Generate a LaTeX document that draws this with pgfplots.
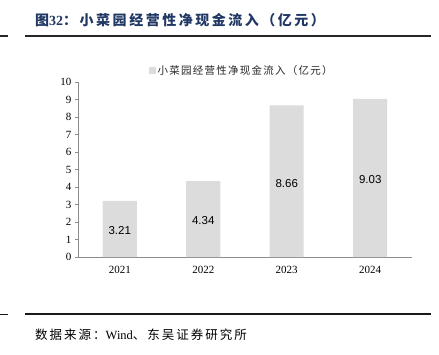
\documentclass[border=0pt]{standalone}
\usepackage{fontspec}
\setmainfont{Liberation Serif}
\newfontfamily\cjk{Noto Sans CJK SC}
\newfontfamily\cjkls[LetterSpace=18]{Noto Sans CJK SC}
\newfontfamily\cjklegend[LetterSpace=12]{Noto Sans CJK SC}
\newfontfamily\cjksrc[LetterSpace=16]{Noto Sans CJK SC}
\newfontfamily\arial{Liberation Sans}
\usepackage{pgfplots}
\pgfplotsset{compat=1.18}
\definecolor{titleblue}{RGB}{33,56,100}
\definecolor{bargray}{RGB}{220,220,220}
\definecolor{axisgray}{RGB}{140,140,140}
\begin{document}
\begin{tikzpicture}
\path[use as bounding box] (0,0) rectangle (439bp,-355bp);
% title
\node[anchor=west, text=titleblue, font=\fontsize{14bp}{15bp}\selectfont, inner sep=0pt] at (35bp,-20bp) {\cjkls\bfseries 图{\fontspec{Liberation Serif}\bfseries 32}：小菜园经营性净现金流入（亿元）};
\draw[line width=1.6bp, black!85] (25bp,-36bp) -- (431bp,-36bp);
\draw[line width=1.2bp, black!85] (0bp,-36bp) -- (8bp,-36bp);
\draw[line width=1.3bp, black!90] (25bp,-314bp) -- (431bp,-314bp);
\draw[line width=1.0bp, black!90] (0bp,-314bp) -- (8bp,-314bp);
\node[anchor=west, font=\fontsize{12.5bp}{13bp}\selectfont, inner sep=0pt] at (35bp,-335bp) {\cjksrc 数据来源：{\fontspec{Liberation Serif}Wind}、东吴证券研究所};
\begin{axis}[
  at={(78bp,-257bp)}, anchor=south west,
  scale only axis, width=334bp, height=175bp,
  xmin=-0.5, xmax=3.5, ymin=0, ymax=10,
  axis lines*=left,
  axis line style={axisgray, line width=0.6bp},
  xtick={0,1,2,3}, xticklabels={2021,2022,2023,2024},
  x tick style={draw=none},
  extra x ticks={0.5,1.5,2.5,3.5}, extra x tick labels={},
  extra x tick style={tick style={draw=axisgray, line width=0.5bp}, major tick length=3bp, tick align=inside},
  ytick={0,1,...,10},
  y tick style={axisgray, line width=0.5bp},
  major tick length=3bp, tick align=outside,
  tick label style={font=\fontsize{11bp}{12bp}\selectfont},
  /pgf/number format/assume math mode=true,
  xticklabel style={yshift=-3bp},
  ybar, bar width=34bp,
  legend style={at={(0.49,1)}, anchor=south, yshift=2bp, draw=none, fill=none,
    font=\fontsize{10.5bp}{11bp}\selectfont\cjklegend, text=black!85},
  legend image code/.code={\fill[bargray] (0bp,-3.5bp) rectangle (7bp,3.5bp);},
  nodes near coords={\pgfmathprintnumber[fixed,precision=2,fixed zerofill]{\pgfplotspointmeta}},
  visualization depends on=rawy\as\rawy,
  every node near coord/.append style={anchor=center, yshift=-2bp, shift={(axis direction cs:0,-\rawy/2)}, font=\fontsize{11.5bp}{12bp}\selectfont\arial, text=black},
]
\addplot[fill=bargray, draw=none] coordinates {(0,3.21) (1,4.34) (2,8.66) (3,9.03)};
\legend{小菜园经营性净现金流入（亿元）}
\end{axis}
\end{tikzpicture}
\end{document}
